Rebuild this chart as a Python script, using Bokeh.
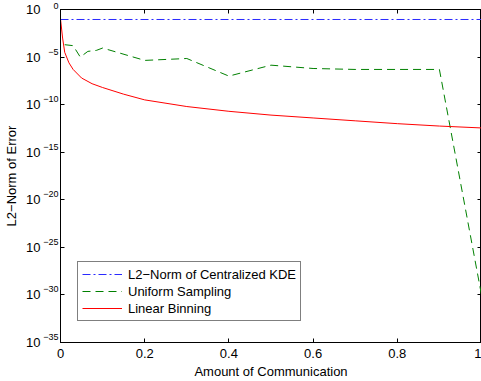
import numpy as np
from bokeh.plotting import figure
from bokeh.models import (LinearAxis, LogAxis, FixedTicker, Legend, LegendItem, Range1d,
                          CustomJSTickFormatter)
from bokeh.embed import file_html
from bokeh.resources import INLINE

# ---- data ----
kde_x = [0.0, 1.0]
kde_log = [-1.05, -1.05]

uni_x = [0.01, 0.03, 0.047, 0.065, 0.085, 0.1, 0.2, 0.3, 0.4, 0.5, 0.6, 0.7, 0.8, 0.9, 1.0]
uni_log = [-3.7, -3.8, -5.0, -4.4, -4.3, -4.05, -5.35, -5.15, -7.0, -5.85, -6.2, -6.3, -6.3, -6.3, -30.0]

lin_x = [0.0, 0.005, 0.01, 0.02, 0.03, 0.05, 0.075, 0.1, 0.15, 0.2, 0.3, 0.4,
         0.5, 0.6, 0.7, 0.8, 0.9, 1.0]
lin_log = [-1.0, -3.0, -4.5, -5.6, -6.3, -7.2, -7.8, -8.2, -8.9, -9.5, -10.2, -10.7,
           -11.1, -11.4, -11.7, -12.0, -12.25, -12.45]

x_ticks = [0, 0.2, 0.4, 0.6, 0.8, 1]
y_exps = [0, -5, -10, -15, -20, -25, -30, -35]

FONT = "Liberation Sans"

p = figure(width=481, height=381, y_axis_type="log", output_backend="svg",
           toolbar_location=None, x_range=Range1d(0, 1), y_range=Range1d(1e-35, 1),
           min_border_left=60, min_border_right=0, min_border_top=9, min_border_bottom=0,
           x_axis_label="Amount of Communication")
p.grid.visible = False
p.background_fill_color = "white"
p.border_fill_color = "white"
p.outline_line_color = "black"
p.outline_line_width = 1

y_ticks = [10.0 ** e for e in y_exps]

def style(ax):
    ax.axis_line_color = "black"
    ax.major_tick_in = 4
    ax.major_tick_out = 0
    ax.minor_tick_line_color = None
    ax.major_label_text_font = FONT
    ax.major_label_text_font_size = "13px"
    ax.major_label_text_color = "black"
    ax.axis_label_text_font = FONT
    ax.axis_label_text_font_size = "13px"
    ax.axis_label_text_font_style = "normal"
    ax.axis_label_text_color = "black"

xa = p.xaxis[0]
style(xa)
xa.ticker = FixedTicker(ticks=x_ticks)
xa.major_label_standoff = 6
xa.axis_label_standoff = 3

# inner left axis: the exponents (raised by a trailing empty line)
ya = p.yaxis[0]
style(ya)
ya.ticker = FixedTicker(ticks=y_ticks)
ya.formatter = CustomJSTickFormatter(
    code="return String(Math.round(Math.log10(tick))).replace('-', '\u2212') + '\\n';")
ya.major_label_text_font_size = "9px"
ya.major_label_text_line_height = 1.1
ya.major_label_standoff = 2

# outer left axis: the base "10" and the axis title
ya2 = LogAxis(ticker=FixedTicker(ticks=y_ticks),
              formatter=CustomJSTickFormatter(code="return '10';"),
              axis_label="L2−Norm of Error")
style(ya2)
ya2.axis_line_color = None
ya2.major_tick_line_color = None
ya2.major_tick_in = 0
ya2.major_label_standoff = 0
ya2.axis_label_standoff = 4
p.add_layout(ya2, "left")

blank = CustomJSTickFormatter(code="return '';")
top = LinearAxis(ticker=FixedTicker(ticks=x_ticks), formatter=blank)
style(top)
top.major_label_standoff = 0
right = LogAxis(ticker=FixedTicker(ticks=y_ticks), formatter=blank)
style(right)
right.major_label_standoff = 0
p.add_layout(top, "above")
p.add_layout(right, "right")

ky = [10.0 ** v for v in kde_log]
uy = [10.0 ** v for v in uni_log]
ly = [10.0 ** v for v in lin_log]

r1 = p.line(kde_x, ky, line_color="#2a2aff", line_width=1, line_dash="8 3 2 3")
r2 = p.line(uni_x, uy, line_color="#008000", line_width=1, line_dash="8 5")
r3 = p.line(lin_x, ly, line_color="#ff0000", line_width=1)

legend = Legend(items=[
    LegendItem(label="L2−Norm of Centralized KDE", renderers=[r1]),
    LegendItem(label="Uniform Sampling", renderers=[r2]),
    LegendItem(label="Linear Binning", renderers=[r3]),
], location=(17, 21))
legend.label_text_font = FONT
legend.label_text_font_size = "13px"
legend.label_text_color = "black"
legend.border_line_color = "black"
legend.border_line_width = 1
legend.background_fill_alpha = 1
legend.padding = 4
legend.margin = 0
legend.spacing = 1
legend.glyph_width = 40
legend.glyph_height = 16
legend.label_height = 16
legend.label_standoff = 6
p.add_layout(legend, "center")

open("out.html", "w").write(file_html(p, INLINE))
